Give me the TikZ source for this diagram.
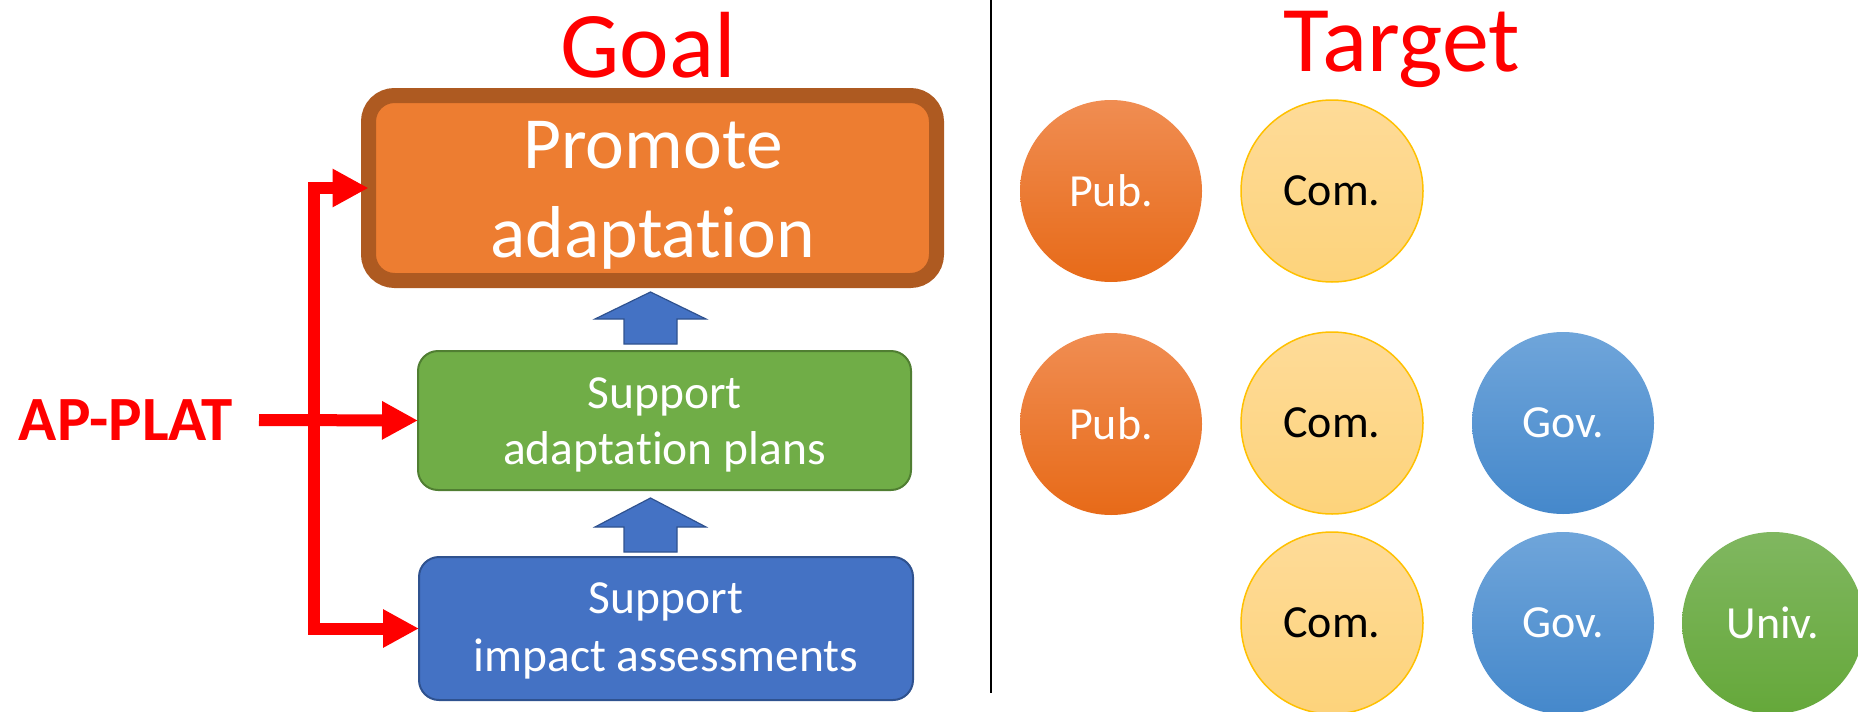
\documentclass[tikz,border=0pt]{standalone}
\usepackage{fontspec}
\setmainfont{Carlito}[Ligatures=NoCommon]
\usetikzlibrary{arrows.meta,calc}
\definecolor{apred}{HTML}{FF0000}
\definecolor{goalfill}{HTML}{ED7D31}
\definecolor{goalline}{HTML}{AE5A21}
\definecolor{greenfill}{HTML}{70AD47}
\definecolor{greenline}{HTML}{507E32}
\definecolor{bluefill}{HTML}{4472C4}
\definecolor{blueline}{HTML}{2F528F}
\definecolor{pubtop}{HTML}{F08D52}
\definecolor{pubbot}{HTML}{E76A18}
\definecolor{comtop}{HTML}{FEDB98}
\definecolor{combot}{HTML}{FDD37B}
\definecolor{comline}{HTML}{FFC000}
\definecolor{govtop}{HTML}{6FA5DA}
\definecolor{govbot}{HTML}{4588CB}
\definecolor{univtop}{HTML}{80B760}
\definecolor{univbot}{HTML}{65A83A}
\begin{document}
\begin{tikzpicture}[x=1pt,y=-1pt,
  boxbase/.style={inner sep=0pt,outer sep=0pt},
  goalboxstyle/.style={boxbase,fill=goalfill,draw=goalline,line width=15pt,rounded corners=26pt,minimum width=568pt,minimum height=185pt},
  greenboxstyle/.style={boxbase,fill=greenfill,draw=greenline,line width=2pt,rounded corners=20pt,minimum width=493pt,minimum height=139pt},
  blueboxstyle/.style={boxbase,fill=bluefill,draw=blueline,line width=2pt,rounded corners=20pt,minimum width=494pt,minimum height=143pt},
  bigtxt/.style={anchor=base,inner sep=0pt,text=white,font=\fontsize{73.5}{88}\selectfont},
  midtxt/.style={anchor=base,inner sep=0pt,text=white,font=\fontsize{47.5}{57}\selectfont},
  titletxt/.style={anchor=base,inner sep=0pt,text=apred,font=\fontsize{94}{110}\selectfont},
  redline/.style={draw=apred,line width=12pt,line join=miter},
  redtip/.style={-{Triangle[length=36pt,width=36pt]}},
  blockarrow/.style={fill=bluefill,draw=blueline,line width=1.2pt},
  disc/.style={circle,minimum size=182pt,inner sep=0pt,font=\fontsize{46}{55}\selectfont},
  pub/.style={disc,top color=pubtop,bottom color=pubbot,text=white},
  com/.style={disc,top color=comtop,bottom color=combot,draw=comline,line width=1.5pt,text=black},
  gov/.style={disc,top color=govtop,bottom color=govbot,text=white},
  univ/.style={disc,top color=univtop,bottom color=univbot,text=white}
]
\useasboundingbox (0,0) rectangle (1858,712);

% titles and divider
\node[titletxt] (goaltitle) at (648,77) {Goal};
\node[titletxt] (targettitle) at (1402,71) {Target};
\coordinate (divtop) at (991,0);
\coordinate (divbot) at (991,693);
\draw[line width=2.5pt,black] (divtop) -- (divbot);

% boxes
\node[goalboxstyle] (goalbox) at (652.5,188) {};
\node[bigtxt] (goaltxta) at (653,168) {Promote};
\node[bigtxt] (goaltxtb) at (653,257) {adaptation};

\node[greenboxstyle] (greenbox) at (664.5,420.5) {};
\node[midtxt] (greentxta) at (664.5,408) {Support};
\node[midtxt] (greentxtb) at (664.5,464) {adaptation plans};

\node[blueboxstyle] (bluebox) at (666,628.5) {};
\node[midtxt] (bluetxta) at (666,613) {Support};
\node[midtxt] (bluetxtb) at (666,671) {impact assessments};

% block arrows
\coordinate (aonet) at (650.5,292);
\coordinate (aoneb) at (650.5,344);
\coordinate (atwot) at (650.5,498);
\coordinate (atwob) at (650.5,552);
\draw[blockarrow] (aonet) -- ++(55.5,27) -- ++(-29,0) -- ($(aoneb)+(26.5,0)$) -- ($(aoneb)+(-26.5,0)$) -- ++(0,-25) -- ++(-29,0) -- cycle;
\draw[blockarrow] (atwot) -- ++(55.5,29) -- ++(-29,0) -- ($(atwob)+(26.5,0)$) -- ($(atwob)+(-26.5,0)$) -- ++(0,-25) -- ++(-29,0) -- cycle;

% AP-PLAT and red connectors
\node[anchor=base,inner sep=0pt,text=apred,font=\bfseries\fontsize{63}{75}\selectfont] (applat) at (126,440) {AP-PLAT};
\coordinate (spinex) at (314,420);
\coordinate (lstart) at (259,420);
\coordinate (spinetop) at (goalbox.west -| spinex);
\coordinate (spinebot) at (bluebox.west -| spinex);
\draw[redline,{Triangle[length=36pt,width=36pt]}-{Triangle[length=36pt,width=36pt]}] (goalbox.west) -- (spinetop) -- (spinebot) -- (bluebox.west);
\draw[redline,redtip] (lstart) -- (greenbox.west);

% target circles
\node[pub] (pubone) at (1111,191) {Pub.};
\node[com] (comone) at (1332,191) {Com.};
\node[pub] (pubtwo) at (1111,424) {Pub.};
\node[com] (comtwo) at (1332,423) {Com.};
\node[gov] (govtwo) at (1563,423) {Gov.};
\node[com] (comthree) at (1332,623) {Com.};
\node[gov] (govthree) at (1563,623) {Gov.};
\node[univ] (univthree) at (1773,623) {Univ.};
\end{tikzpicture}
\end{document}
